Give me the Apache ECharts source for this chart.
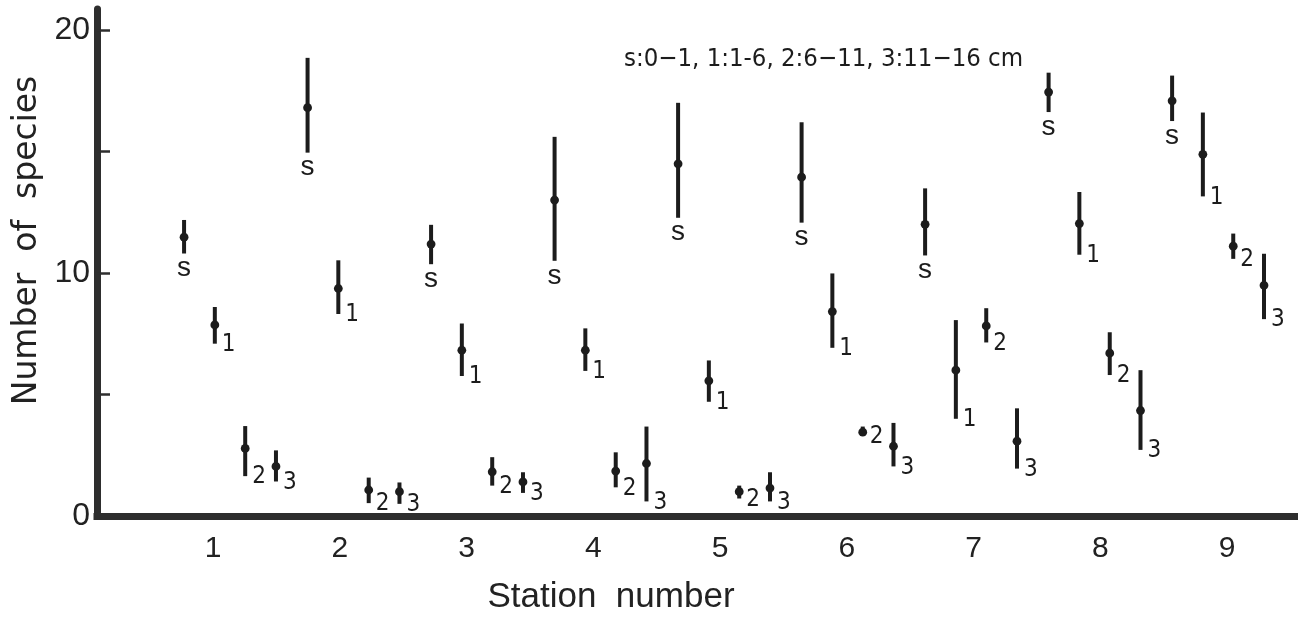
<!DOCTYPE html>
<html>
<head>
<meta charset="utf-8">
<title>Number of species by station and depth</title>
<script src="https://cdn.jsdelivr.net/npm/echarts@6/dist/echarts.min.js"></script>
<style>
  html, body { margin: 0; padding: 0; background: #ffffff; }
  #chart { width: 1298px; height: 624px; }
</style>
</head>
<body>
<div id="chart"></div>
<script>
// Stations along the x axis
const stationNumbers = [1, 2, 3, 4, 5, 6, 7, 8, 9];

// Depth classes: s = 0-1 cm, 1 = 1-6 cm, 2 = 6-11 cm, 3 = 11-16 cm
const depthClasses = ['s', '1', '2', '3'];

// Number of species: mean, lower and upper end of the range, per station
const surfaceMean = [11.47, 16.8, 11.19, 13.0, 14.49, 13.94, 12.0, 17.44, 17.08];
const surfaceLow  = [10.8, 14.95, 10.36, 10.5, 12.27, 12.07, 10.72, 16.62, 16.25];
const surfaceHigh = [12.18, 18.85, 11.98, 15.6, 17.0, 16.2, 13.48, 18.24, 18.12];

const layer1Mean = [7.86, 9.36, 6.82, 6.82, 5.56, 8.41, 6.0, 12.03, 14.88];
const layer1Low  = [7.09, 8.31, 5.76, 5.97, 4.7, 6.92, 4.0, 10.75, 13.15];
const layer1High = [8.6, 10.52, 7.92, 7.72, 6.4, 9.98, 8.06, 13.33, 16.6];

const layer2Mean = [2.78, 1.07, 1.82, 1.85, 1.0, 3.45, 7.82, 6.7, 11.1];
const layer2Low  = [1.64, 0.53, 1.25, 1.18, 0.72, 3.3, 7.14, 5.8, 10.58];
const layer2High = [3.7, 1.58, 2.42, 2.62, 1.25, 3.68, 8.55, 7.56, 11.62];

const layer3Mean = [2.04, 1.0, 1.4, 2.16, 1.15, 2.87, 3.08, 4.34, 9.49];
const layer3Low  = [1.42, 0.5, 0.95, 0.6, 0.6, 2.04, 1.95, 2.72, 8.1];
const layer3High = [2.7, 1.38, 1.8, 3.68, 1.8, 3.83, 4.43, 6.0, 10.79];

// Axis ticks and labels
const yLabelValues = [0, 10, 20];
const yTickValues = [5, 10, 15, 20];

const legendText = 's:0\u22121, 1:1-6, 2:6\u221211, 3:11\u221216 cm';

const INK = '#1c1c1c';
const AXIS_INK = '#2e2e2e';
const NARROW = '"Liberation Sans Narrow", "DejaVu Sans Condensed", "Roboto Condensed", sans-serif';
const SANS = '"Liberation Sans", Arial, Helvetica, sans-serif';
const WIDE = '"DejaVu Sans", "Liberation Sans", sans-serif';

// Horizontal offset of each depth class inside a station group
const classOffset = { s: -0.372, '1': -0.123, '2': 0.123, '3': 0.372 };

const classTables = {
  s: [surfaceMean, surfaceLow, surfaceHigh],
  '1': [layer1Mean, layer1Low, layer1High],
  '2': [layer2Mean, layer2Low, layer2High],
  '3': [layer3Mean, layer3Low, layer3High]
};

function buildData(cls) {
  const [mean, low, high] = classTables[cls];
  return stationNumbers.map((st, i) => [st + classOffset[cls], mean[i], low[i], high[i]]);
}

function makeRenderer(cls) {
  return function (params, api) {
    const x = api.value(0);
    const top = api.coord([x, api.value(3)]);
    const bot = api.coord([x, api.value(2)]);
    const mid = api.coord([x, api.value(1)]);
    const children = [
      {
        type: 'line',
        shape: { x1: top[0], y1: top[1], x2: bot[0], y2: bot[1] },
        style: { stroke: INK, lineWidth: 4, lineCap: 'butt' }
      },
      {
        type: 'circle',
        shape: { cx: mid[0], cy: mid[1], r: 4.4 },
        style: { fill: INK }
      }
    ];
    if (cls === 's') {
      children.push({
        type: 'text',
        style: {
          text: 's', x: bot[0], y: bot[1] + 1,
          align: 'center', verticalAlign: 'top',
          fontFamily: SANS, fontSize: 28, fill: INK
        }
      });
    } else {
      children.push({
        type: 'text',
        style: {
          text: cls, x: bot[0] + 7, y: bot[1] + 1,
          align: 'left', verticalAlign: 'middle',
          fontFamily: NARROW, fontSize: 24, fill: INK
        }
      });
    }
    return { type: 'group', children: children };
  };
}

const chart = echarts.init(document.getElementById('chart'), null, { renderer: 'canvas' });

const option = {
  backgroundColor: '#ffffff',
  animation: false,
  title: {
    text: legendText,
    left: 619,
    top: 41,
    textStyle: { fontFamily: NARROW, fontSize: 25.5, fontWeight: 'normal', color: INK }
  },
  grid: [
    { left: 97, right: 3, top: 9, bottom: 108 },
    { left: 86.25, right: 7.6, top: 9, bottom: 108 }
  ],
  xAxis: [
    {
      type: 'value',
      gridIndex: 0,
      min: -0.077,
      max: 9.623,
      splitLine: { show: false },
      axisTick: { show: false },
      axisLabel: { show: false },
      axisLine: { show: true, lineStyle: { color: AXIS_INK, width: 7, cap: 'square' } },
      name: 'Station  number',
      nameLocation: 'middle',
      nameGap: 64,
      nameTextStyle: { fontFamily: SANS, fontSize: 35, color: '#222', padding: [0, 170, 0, 0] }
    },
    {
      type: 'value',
      gridIndex: 1,
      min: 0,
      max: 9.5,
      splitLine: { show: false },
      axisTick: { show: false },
      axisLine: { show: false },
      axisLabel: {
        customValues: stationNumbers,
        margin: 18,
        fontFamily: SANS,
        fontSize: 30,
        color: '#222'
      }
    }
  ],
  yAxis: [
    {
      type: 'value',
      gridIndex: 0,
      min: 0,
      max: 20.86,
      splitLine: { show: false },
      axisLine: { show: true, onZero: false, lineStyle: { color: AXIS_INK, width: 7 } },
      axisTick: {
        show: true, inside: true, length: 13,
        customValues: yTickValues,
        lineStyle: { color: AXIS_INK, width: 2.5 }
      },
      axisLabel: {
        customValues: yLabelValues,
        margin: 7,
        padding: [6, 0, 0, 0],
        fontFamily: SANS,
        fontSize: 32,
        color: '#222'
      },
      name: 'Number  of  species',
      nameLocation: 'middle',
      nameGap: 50,
      nameTextStyle: { fontFamily: WIDE, fontSize: 33, color: '#222', padding: [0, 0, 0, 44] }
    },
    {
      type: 'value',
      gridIndex: 1,
      min: 0,
      max: 20.86,
      show: false
    }
  ],
  series: depthClasses.map(cls => ({
    type: 'custom',
    name: cls,
    xAxisIndex: 0,
    yAxisIndex: 0,
    renderItem: makeRenderer(cls),
    encode: { x: 0, y: [1, 2, 3] },
    data: buildData(cls),
    clip: false
  }))
};

chart.setOption(option);
</script>
</body>
</html>
